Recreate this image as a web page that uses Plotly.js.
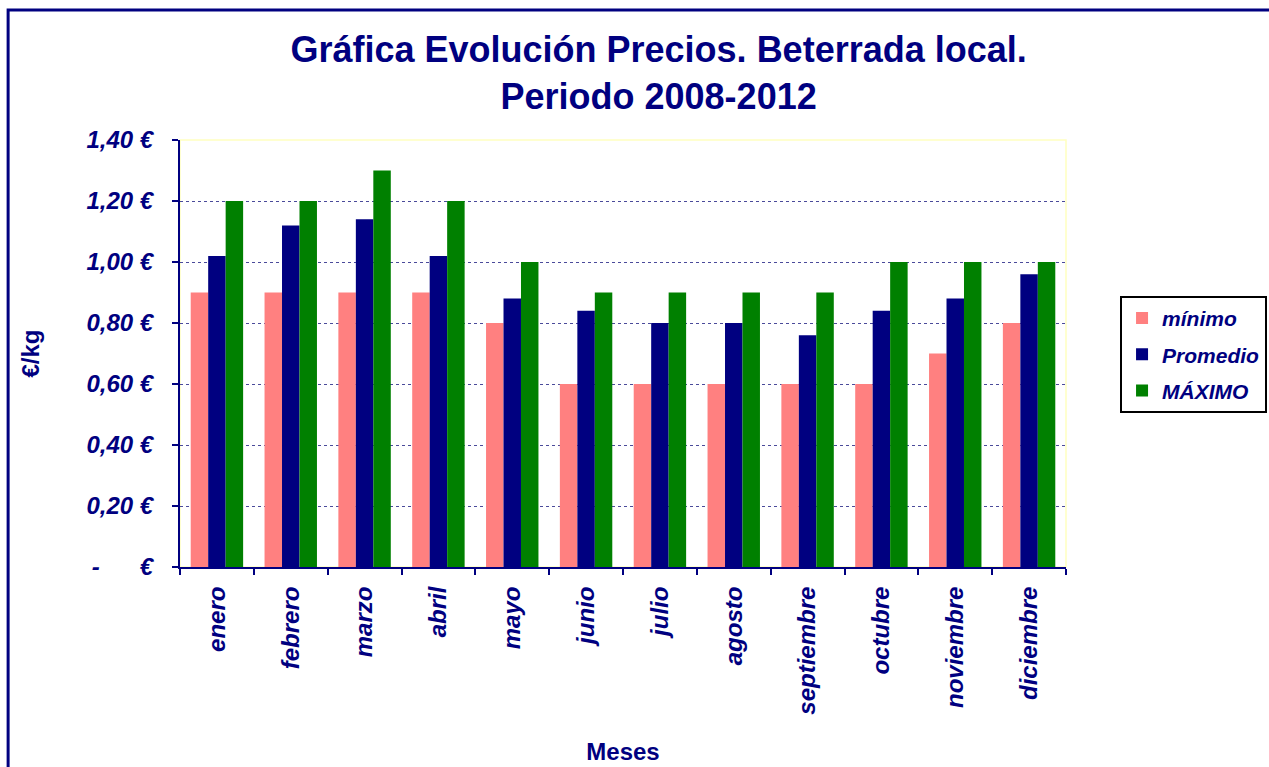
<!DOCTYPE html>
<html>
<head>
<meta charset="utf-8">
<script src="https://cdn.plot.ly/plotly-3.0.1.min.js"></script>
<style>html,body{margin:0;padding:0;background:#fff;}#chart{width:1269px;height:767px;}</style>
</head>
<body>
<div id="chart"></div>
<script>
const months = ["enero","febrero","marzo","abril","mayo","junio","julio","agosto","septiembre","octubre","noviembre","diciembre"];
const minimo = [0.90,0.90,0.90,0.90,0.80,0.60,0.60,0.60,0.60,0.60,0.70,0.80];
const promedio = [1.02,1.12,1.14,1.02,0.88,0.84,0.80,0.80,0.76,0.84,0.88,0.96];
const maximo = [1.20,1.20,1.30,1.20,1.00,0.90,0.90,0.90,0.90,1.00,1.00,1.00];
const yTickVals = [0,0.2,0.4,0.6,0.8,1.0,1.2,1.4];
const yTickText = ["-\u00a0\u00a0\u00a0\u00a0\u00a0\u00a0€","0,20 €","0,40 €","0,60 €","0,80 €","1,00 €","1,20 €","1,40 €"];

const NAVY = "#000080";
const FONT = "Liberation Sans, Arial, sans-serif";
const tickFont = {family: FONT, size: 24, color: NAVY, weight: 700, style: "italic"};
const legFont = {family: FONT, size: 21, color: NAVY, weight: 700, style: "italic"};

const traces = [
  {type:"bar", name:"mínimo", x:months, y:minimo, marker:{color:"#FF8080"}, legendgroup:"a"},
  {type:"bar", name:"Promedio", x:months, y:promedio, marker:{color:NAVY}, legendgroup:"b"},
  {type:"bar", name:"MÁXIMO", x:months, y:maximo, marker:{color:"#008000"}, legendgroup:"c"}
];

const layout = {
  width:1269, height:767,
  margin:{l:180, r:203, t:140, b:200, autoexpand:false},
  paper_bgcolor:"#fff", plot_bgcolor:"#fff",
  barmode:"group", bargap:0.29, bargroupgap:0,
  font:{family:FONT, color:NAVY},
  title:{text:"Gráfica Evolución Precios. Beterrada local.<br>Periodo 2008-2012",
         font:{family:FONT, size:36, color:NAVY, weight:700},
         x:0.519, xref:"container", xanchor:"center", y:0.919, yref:"container", yanchor:"top"},
  xaxis:{
    type:"category", tickangle:-90, tickfont:tickFont, ticklabelstandoff:8,
    ticks:"outside", ticklen:6, tickwidth:2, tickcolor:NAVY, tickson:"boundaries",
    showline:true, linecolor:NAVY, linewidth:2,
    showgrid:false, zeroline:false,
    title:{text:"Meses", font:{family:FONT, size:24, color:NAVY, weight:700}, standoff:30}
  },
  yaxis:{
    range:[0,1.4], tickvals:yTickVals, ticktext:yTickText, tickfont:tickFont,
    ticks:"outside", ticklen:6, tickwidth:2, tickcolor:NAVY, ticklabelstandoff:14,
    showline:true, linecolor:NAVY, linewidth:2,
    showgrid:true, gridcolor:"#4a4a9a", gridwidth:1, griddash:"dot", zeroline:false,
    title:{text:"€/kg", font:{family:FONT, size:24, color:NAVY, weight:700}, standoff:40}
  },
  legend:{x:1.061, xanchor:"left", y:0.635, yanchor:"top",
    bordercolor:"#000", borderwidth:2, bgcolor:"#fff",
    font:legFont, itemwidth:30, traceorder:"grouped", tracegroupgap:6},
  shapes:[
    {type:"rect", xref:"paper", yref:"paper", x0:0, x1:1, y0:0, y1:1,
     line:{color:"#FFFFC0", width:1.5}, layer:"below"},
    {type:"rect", xref:"paper", yref:"paper", x0:-0.194, x1:1.6, y0:-1, y1:1.3044,
     line:{color:NAVY, width:3}, fillcolor:"rgba(0,0,0,0)", layer:"below"}
  ],
  showlegend:true
};

Plotly.newPlot("chart", traces, layout, {displayModeBar:false, staticPlot:true});
</script>
</body>
</html>
